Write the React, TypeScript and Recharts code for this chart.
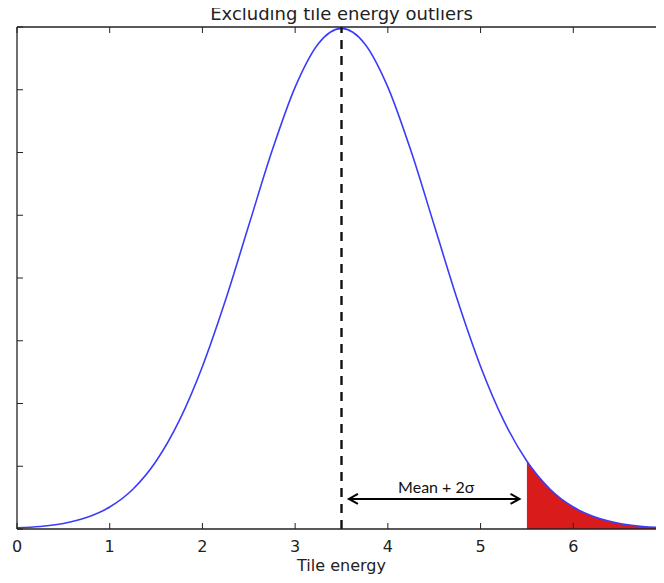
import React from 'react';
import { ComposedChart, Line, Area, XAxis, YAxis, ReferenceLine } from 'recharts';

// Tile energy grid and the estimated density of the curve at each point
const energies = [0, 0.25, 0.5, 0.75, 1, 1.25, 1.5, 1.75, 2, 2.25, 2.5, 2.75, 3, 3.25, 3.5, 3.75, 4, 4.25, 4.5, 4.75, 5, 5.25, 5.5, 5.75, 6, 6.25, 6.5, 6.75, 7];
const density = [0.0009, 0.002, 0.0044, 0.0091, 0.0175, 0.0317, 0.054, 0.0863, 0.1295, 0.1826, 0.242, 0.3011, 0.3521, 0.3867, 0.3989, 0.3867, 0.3521, 0.3011, 0.242, 0.1826, 0.1295, 0.0863, 0.054, 0.0317, 0.0175, 0.0091, 0.0044, 0.002, 0.0009];

const meanEnergy = 3.5;
const tailStart = 5.5;
const arrowFrom = 3.58;
const arrowTo = 5.42;
const arrowLevel = 0.024;
const arrowText = 'Mean + 2σ';

const xTicks = [0, 1, 2, 3, 4, 5, 6, 7];
const yTicks = [0, 0.05, 0.1, 0.15, 0.2, 0.25, 0.3, 0.35, 0.4];

const title = 'Excluding tile energy outliers';
const xLabel = 'Tile energy';

const data = energies.map((e, i) => ({
  energy: e,
  pdf: density[i],
  tail: e >= tailStart ? density[i] : null,
}));

const FONT = '"DejaVu Sans", sans-serif';
const INK = '#222';
const TICK_LEN = 6;

const ArrowShape = (props: any) => {
  const { x1, y1, x2, y2 } = props;
  const h = 9;
  const w = 5;
  const midX = (x1 + x2) / 2;
  return (
    <g>
      <line x1={x1} y1={y1} x2={x2} y2={y2} stroke="#000" strokeWidth={2} />
      <polyline points={`${x1 + h},${y1 - w} ${x1},${y1} ${x1 + h},${y1 + w}`} fill="none" stroke="#000" strokeWidth={2} />
      <polyline points={`${x2 - h},${y2 - w} ${x2},${y2} ${x2 - h},${y2 + w}`} fill="none" stroke="#000" strokeWidth={2} />
      <text x={midX + 2} y={y1 - 6} textAnchor="middle" fontFamily="Lato, sans-serif" fontSize={16} fill="#111">
        {arrowText}
      </text>
    </g>
  );
};

const BottomTick = (props: any) => {
  const { x, y, payload } = props;
  return (
    <g>
      <line x1={x} y1={y} x2={x} y2={y - TICK_LEN} stroke={INK} strokeWidth={1} />
      <text x={x} y={y + 23} textAnchor="middle" fontFamily={FONT} fontSize={16} fill={INK}>
        {payload.value}
      </text>
    </g>
  );
};

const TopTick = (props: any) => {
  const { x, y } = props;
  return <line x1={x} y1={y} x2={x} y2={y + TICK_LEN} stroke={INK} strokeWidth={1} />;
};

const LeftTick = (props: any) => {
  const { x, y } = props;
  return <line x1={x} y1={y} x2={x + TICK_LEN} y2={y} stroke={INK} strokeWidth={1} />;
};

const RightTick = (props: any) => {
  const { x, y } = props;
  return <line x1={x} y1={y} x2={x - TICK_LEN} y2={y} stroke={INK} strokeWidth={1} />;
};

const frameLine = { stroke: INK, strokeWidth: 1.3 };

export default function App() {
  return (
    <div style={{ position: 'relative', width: 664, height: 583, margin: -8, overflow: 'hidden', background: '#fff' }}>
      <div
        style={{
          position: 'absolute',
          left: 17,
          width: 649,
          top: 3,
          textAlign: 'center',
          fontFamily: FONT,
          fontSize: 18,
          color: INK,
          lineHeight: 'normal',
          whiteSpace: 'nowrap',
        }}
      >
        {title}
      </div>
      <ComposedChart
        width={690}
        height={583}
        data={data}
        margin={{ top: 26, left: 16, right: 23, bottom: 24 }}
      >
        <XAxis
          dataKey="energy"
          type="number"
          domain={[0, 7]}
          ticks={xTicks}
          interval={0}
          height={30}
          tickSize={0}
          tickMargin={0}
          axisLine={frameLine}
          tickLine={false}
          tick={BottomTick}
          label={{ value: xLabel, position: 'bottom', offset: 1, fontFamily: FONT, fontSize: 16, fill: INK }}
        />
        <XAxis
          xAxisId="top"
          orientation="top"
          dataKey="energy"
          type="number"
          domain={[0, 7]}
          ticks={xTicks}
          interval={0}
          height={1}
          tickSize={0}
          tickMargin={0}
          axisLine={frameLine}
          tickLine={false}
          tick={TopTick}
        />
        <YAxis
          type="number"
          domain={[0, 0.4]}
          ticks={yTicks}
          interval={0}
          width={1}
          tickSize={0}
          tickMargin={0}
          axisLine={frameLine}
          tickLine={false}
          tick={LeftTick}
        />
        <YAxis
          yAxisId="right"
          orientation="right"
          type="number"
          domain={[0, 0.4]}
          ticks={yTicks}
          interval={0}
          width={1}
          tickSize={0}
          tickMargin={0}
          axisLine={frameLine}
          tickLine={false}
          tick={RightTick}
        />
        <Area
          dataKey="tail"
          type="monotone"
          stroke="none"
          fill="#da1b1b"
          fillOpacity={1}
          isAnimationActive={false}
          connectNulls={false}
          dot={false}
          activeDot={false}
        />
        <Line
          dataKey="pdf"
          type="monotone"
          stroke="#3c3cf8"
          strokeWidth={1.6}
          dot={false}
          activeDot={false}
          isAnimationActive={false}
        />
        <ReferenceLine x={meanEnergy} stroke="#111" strokeWidth={2.4} strokeDasharray="9 7" />
        <ReferenceLine
          segment={[
            { x: arrowFrom, y: arrowLevel },
            { x: arrowTo, y: arrowLevel },
          ]}
          shape={ArrowShape}
        />
      </ComposedChart>
    </div>
  );
}
